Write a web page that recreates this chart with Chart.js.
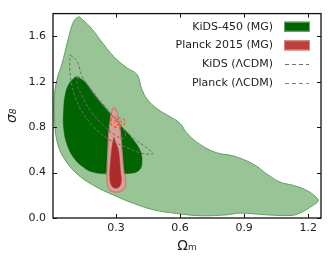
<!DOCTYPE html>
<html>
<head>
<meta charset="utf-8">
<script src="https://cdn.jsdelivr.net/npm/chart.js@4/dist/chart.umd.min.js"></script>
<style>
  html, body { margin: 0; padding: 0; background: #fff; }
</style>
</head>
<body>
<canvas id="myChart" width="331" height="264"></canvas>
<script>
// contour vertices, [Omega_m, sigma_8]
const kidsMg95 = [[0.128,1.773],[0.180,1.681],[0.227,1.566],[0.289,1.422],[0.351,1.322],[0.398,1.264],[0.421,1.134],[0.445,1.048],[0.492,0.962],[0.554,0.891],[0.600,0.833],[0.632,0.747],[0.694,0.647],[0.772,0.574],[0.850,0.546],[0.943,0.474],[1.006,0.388],[1.068,0.316],[1.130,0.287],[1.192,0.244],[1.239,0.180],[1.247,0.150],[1.223,0.112],[1.161,0.043],[1.115,0.022],[1.006,0.028],[0.881,0.043],[0.819,0.028],[0.694,0.020],[0.585,0.040],[0.476,0.072],[0.382,0.129],[0.289,0.201],[0.195,0.287],[0.118,0.388],[0.055,0.531],[0.024,0.675],[0.012,0.876],[0.012,1.078],[0.024,1.221],[0.048,1.365],[0.071,1.537],[0.094,1.695],[0.110,1.753],[0.128,1.773]];
const kidsMg68 = [[0.110,1.244],[0.149,1.207],[0.195,1.091],[0.258,0.948],[0.320,0.819],[0.375,0.703],[0.414,0.589],[0.421,0.474],[0.405,0.416],[0.367,0.393],[0.273,0.388],[0.195,0.402],[0.149,0.445],[0.102,0.531],[0.071,0.647],[0.055,0.790],[0.055,0.962],[0.063,1.091],[0.079,1.178],[0.110,1.244]];
const planckMg95 = [[0.292,0.977],[0.305,0.934],[0.320,0.760],[0.328,0.589],[0.336,0.416],[0.345,0.330],[0.343,0.270],[0.325,0.235],[0.300,0.228],[0.275,0.240],[0.260,0.290],[0.258,0.416],[0.262,0.589],[0.267,0.760],[0.277,0.905],[0.283,0.955],[0.292,0.977]];
const planckMg68 = [[0.290,0.710],[0.300,0.660],[0.312,0.589],[0.321,0.416],[0.325,0.330],[0.318,0.281],[0.300,0.262],[0.280,0.282],[0.271,0.359],[0.276,0.531],[0.283,0.650],[0.290,0.710]];
const kidsL95 = [[0.086,1.436],[0.118,1.379],[0.141,1.250],[0.195,1.106],[0.258,0.962],[0.320,0.819],[0.382,0.703],[0.445,0.617],[0.473,0.566],[0.414,0.574],[0.336,0.632],[0.258,0.703],[0.195,0.804],[0.133,0.962],[0.094,1.164],[0.083,1.336],[0.086,1.436]];
const kidsL68 = [[0.120,1.250],[0.160,1.190],[0.210,1.060],[0.270,0.930],[0.320,0.820],[0.345,0.740],[0.335,0.700],[0.300,0.725],[0.250,0.800],[0.190,0.920],[0.145,1.060],[0.118,1.180],[0.120,1.250]];
const planckL95 = [[0.285,0.890],[0.310,0.885],[0.335,0.870],[0.342,0.840],[0.330,0.810],[0.305,0.800],[0.282,0.815],[0.276,0.850],[0.285,0.890]];
const planckL68 = [[0.300,0.870],[0.318,0.865],[0.325,0.845],[0.318,0.825],[0.302,0.822],[0.294,0.840],[0.300,0.870]];

const xTicks = [0.3, 0.6, 0.9, 1.2];
const yTicks = [0.0, 0.4, 0.8, 1.2, 1.6];
const legendLabels = ['KiDS-450 (MG)', 'Planck 2015 (MG)', 'KiDS (\u039BCDM)', 'Planck (\u039BCDM)'];

const pts = arr => arr.map(p => ({x: p[0], y: p[1]}));

function contour(arr, fillColor, edge, width, dash) {
    return {
        data: pts(arr),
        showLine: true,
        fill: fillColor ? 'shape' : false,
        backgroundColor: fillColor || 'transparent',
        borderColor: edge,
        borderWidth: width,
        borderDash: dash || [],
        tension: 0.4,
        pointRadius: 0,
        pointHoverRadius: 0
    };
}

// first dataset is drawn on top
const datasets = [
    contour(planckL68, null, 'rgb(255,85,40)', 1.2, [3, 2]),
    contour(planckL95, null, 'rgb(255,85,40)', 1.2, [3, 2]),
    contour(kidsL68, null, 'rgb(110,110,110)', 1, [3, 2]),
    contour(kidsL95, null, 'rgb(110,110,110)', 1, [3, 2]),
    contour(planckMg68, 'rgb(172,44,44)', 'rgb(172,44,44)', 0.5),
    contour(planckMg95, 'rgb(216,160,152)', 'rgb(200,125,118)', 1.2),
    contour(kidsMg68, 'rgb(0,100,0)', 'rgb(0,100,0)', 0.5),
    contour(kidsMg95, 'rgb(153,196,150)', 'rgb(95,160,95)', 1)
];

const tickFont = {family: 'DejaVu Sans', size: 11};

const framePlugin = {
    id: 'frame',
    afterDatasetsDraw(chart) {
        const {ctx, chartArea: a, scales: {x, y}} = chart;
        ctx.save();
        ctx.strokeStyle = '#111';
        ctx.lineWidth = 1;
        ctx.beginPath();
        xTicks.forEach(v => {
            const px = Math.round(x.getPixelForValue(v)) + 0.5;
            ctx.moveTo(px, a.bottom); ctx.lineTo(px, a.bottom - 4);
            ctx.moveTo(px, a.top); ctx.lineTo(px, a.top + 4);
        });
        yTicks.forEach(v => {
            const py = Math.round(y.getPixelForValue(v)) + 0.5;
            ctx.moveTo(a.left, py); ctx.lineTo(a.left + 4, py);
            ctx.moveTo(a.right, py); ctx.lineTo(a.right - 4, py);
        });
        ctx.stroke();
        ctx.lineWidth = 1.3;
        ctx.strokeRect(a.left, a.top, a.right - a.left, a.bottom - a.top);
        ctx.restore();
    },
    afterDraw(chart) {
        const ctx = chart.ctx;
        ctx.save();
        ctx.font = '11px "DejaVu Sans"';
        ctx.fillStyle = '#222';
        ctx.textAlign = 'right';
        ctx.textBaseline = 'middle';
        legendLabels.forEach((t, i) => {
            const cy = 26.7 + i * 18.7;
            ctx.fillText(t, 273, cy);
            if (i === 0 || i === 1) {
                ctx.fillStyle = i === 0 ? 'rgb(0,100,0)' : 'rgb(190,62,62)';
                ctx.strokeStyle = i === 0 ? 'rgb(110,170,110)' : 'rgb(215,140,135)';
                ctx.lineWidth = 1;
                ctx.fillRect(284, cy - 5, 26, 10);
                ctx.strokeRect(284.5, cy - 4.5, 25, 9);
                ctx.fillStyle = '#222';
            } else {
                ctx.strokeStyle = i === 2 ? 'rgb(110,110,110)' : 'rgb(255,85,40)';
                ctx.lineWidth = 1.2;
                ctx.setLineDash([4, 3]);
                ctx.beginPath();
                ctx.moveTo(285, Math.round(cy) + 0.5);
                ctx.lineTo(309, Math.round(cy) + 0.5);
                ctx.stroke();
                ctx.setLineDash([]);
            }
        });
        ctx.restore();
    }
};

const config = {
    type: 'scatter',
    data: {datasets: datasets},
    options: {
        responsive: false,
        animation: false,
        events: [],
        layout: {padding: {top: 9, right: 10, left: 0, bottom: 7}},
        plugins: {legend: {display: false}, tooltip: {enabled: false}},
        scales: {
            x: {
                type: 'linear',
                min: 0.005,
                max: 1.26,
                afterBuildTicks: s => { s.ticks = xTicks.map(v => ({value: v})); },
                afterFit: s => { s.height = 39; },
                grid: {display: false, drawTicks: false},
                border: {display: false},
                ticks: {font: tickFont, color: '#222', padding: 4, maxRotation: 0, autoSkip: false,
                        callback: v => v.toFixed(1)},
                title: {display: true, text: '\u03A9\u2098', color: '#222',
                        font: {family: 'DejaVu Sans', size: 14}, padding: {top: 0, bottom: 2}}
            },
            y: {
                type: 'linear',
                min: 0,
                max: 1.8,
                afterBuildTicks: s => { s.ticks = yTicks.map(v => ({value: v})); },
                afterFit: s => { s.width = 53; },
                grid: {display: false, drawTicks: false},
                border: {display: false},
                ticks: {font: tickFont, color: '#222', padding: 7, autoSkip: false,
                        callback: v => v.toFixed(1)},
                title: {display: true, text: '\u03C3\u2088', color: '#222',
                        font: {family: 'DejaVu Sans', size: 14, style: 'italic'}, padding: {top: 4, bottom: 0}}
            }
        }
    },
    plugins: [framePlugin]
};

var ctx = document.getElementById('myChart').getContext('2d');
new Chart(ctx, config);
</script>
</body>
</html>
